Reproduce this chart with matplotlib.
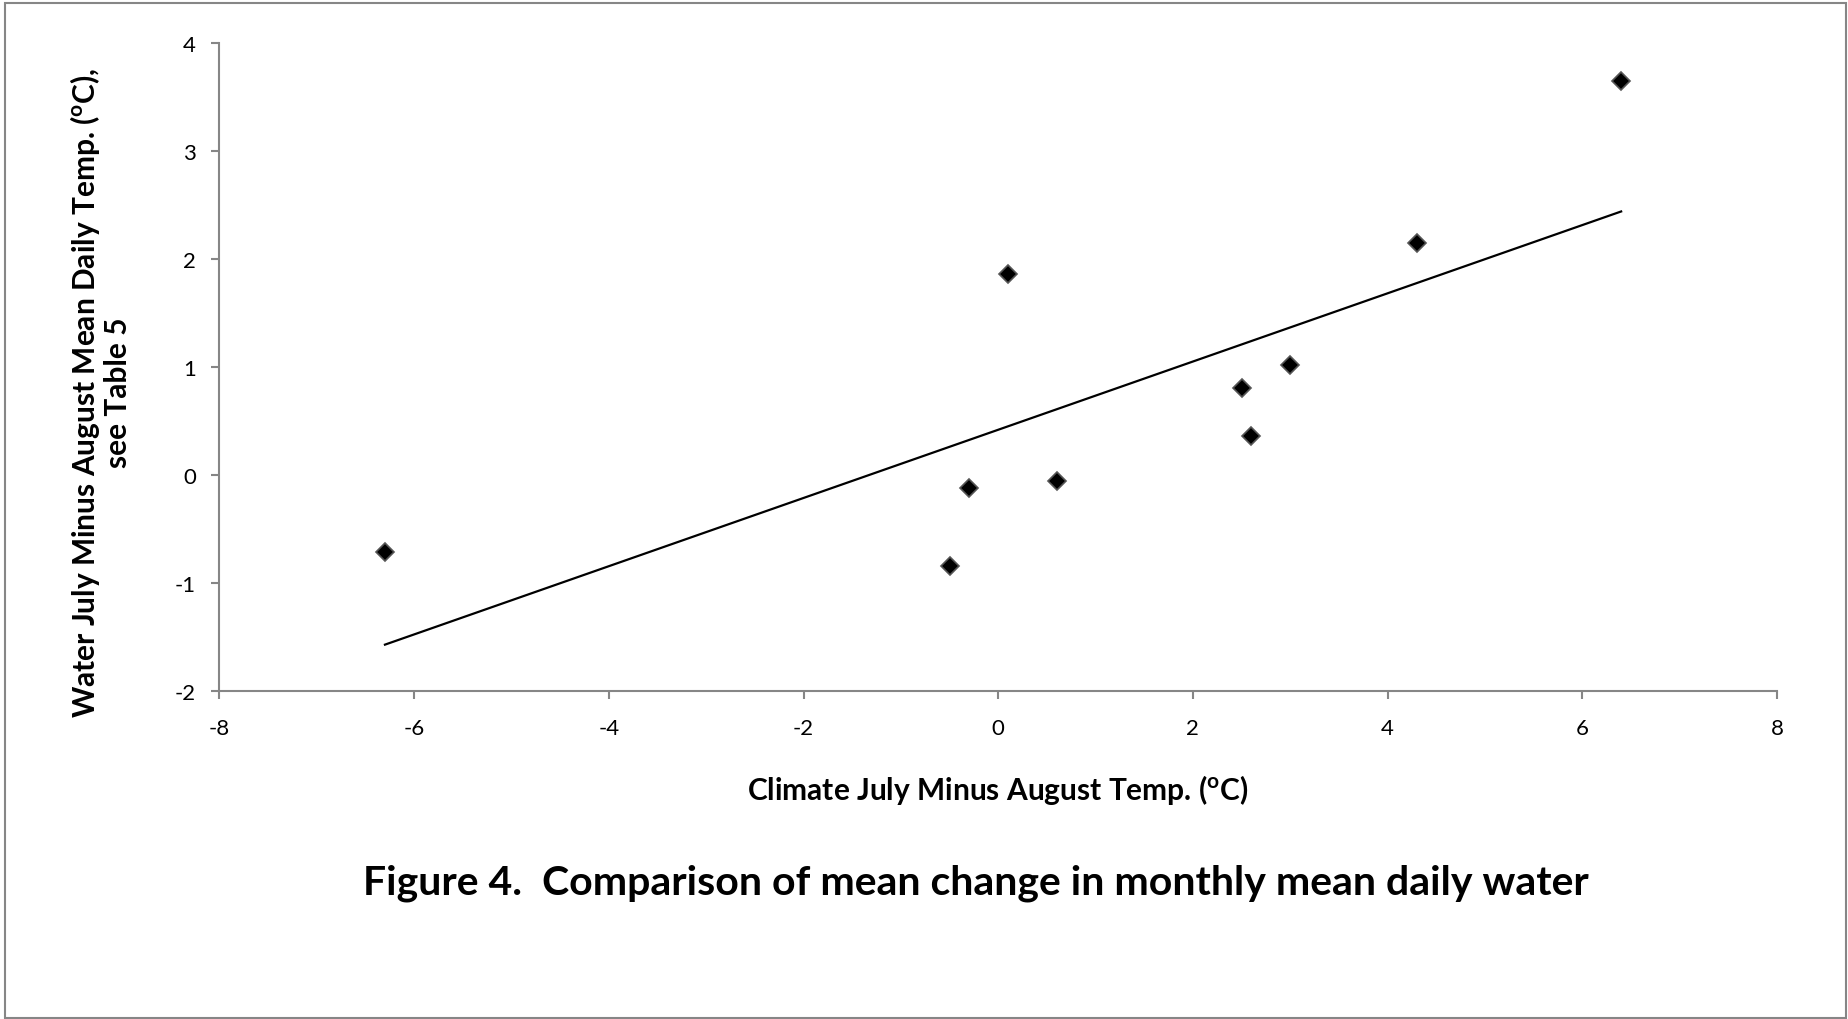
import numpy as np
import matplotlib
matplotlib.use("Agg")
import matplotlib.pyplot as plt
from matplotlib.patches import Rectangle

# climate vs. water July-minus-August temperature differences (oC)
climate_diff = [-6.3, -0.5, -0.3, 0.1, 0.6, 2.5, 2.6, 3.0, 4.3, 6.4]
water_diff = [-0.71, -0.84, -0.12, 1.86, -0.05, 0.81, 0.36, 1.02, 2.15, 3.65]

x_ticks = [-8, -6, -4, -2, 0, 2, 4, 6, 8]
y_ticks = [-2, -1, 0, 1, 2, 3, 4]

plt.rcParams["font.family"] = ["Lato", "DejaVu Sans"]
plt.rcParams["mathtext.fontset"] = "custom"
plt.rcParams["mathtext.rm"] = "Lato"
plt.rcParams["mathtext.bf"] = "Lato:bold"

axis_grey = "#868686"

fig = plt.figure(figsize=(18.49, 10.20), dpi=100)
fig.patch.set_facecolor("white")

# thin grey frame around the whole chart area
fig.patches.append(Rectangle((5 / 1849, 1 - 1019 / 1020), 1841 / 1849, 1015 / 1020,
                             transform=fig.transFigure, fill=False,
                             edgecolor=axis_grey, linewidth=1.5))

ax = fig.add_axes([0.1187, 0.3213, 0.8423, 0.6353])

# least-squares trend line over the data range
x = np.array(climate_diff)
y = np.array(water_diff)
slope, intercept = np.polyfit(x, y, 1)
xs = np.array([x.min(), x.max()])
ax.plot(xs, slope * xs + intercept, color="black", linewidth=1.6, zorder=2)

ax.plot(climate_diff, water_diff, linestyle="none", marker="D", markersize=9.5,
        markerfacecolor="black", markeredgecolor="#555555", markeredgewidth=1.2, zorder=3)

ax.set_xlim(-8, 8)
ax.set_ylim(-2, 4)
ax.set_xticks(x_ticks)
ax.set_yticks(y_ticks)
ax.set_xticklabels([str(v) for v in x_ticks])
ax.set_yticklabels([str(v) for v in y_ticks])

for side in ["top", "right"]:
    ax.spines[side].set_visible(False)
for side in ["left", "bottom"]:
    ax.spines[side].set_color(axis_grey)
    ax.spines[side].set_linewidth(1.5)

ax.tick_params(axis="both", direction="out", length=6, width=1.5, color=axis_grey,
               labelsize=16, labelcolor="black")
ax.tick_params(axis="x", pad=13)
ax.tick_params(axis="y", pad=11)

fig.text(998 / 1849, 1 - 790 / 1020, r"Climate July Minus August Temp. (${}^{\mathbf{o}}$C)",
         ha="center", va="center", fontsize=21.5, fontweight="bold")

fig.text(85 / 1849, 1 - 393 / 1020,
         r"Water July Minus August Mean Daily Temp. (${}^{\mathbf{o}}$C),",
         ha="center", va="center", rotation=90, fontsize=21.5, fontweight="bold")
fig.text(118 / 1849, 1 - 393 / 1020, "see Table 5",
         ha="center", va="center", rotation=90, fontsize=21.5, fontweight="bold")

fig.text(976 / 1849, 1 - 883 / 1020,
         "Figure 4.  Comparison of mean change in monthly mean daily water",
         ha="center", va="center", fontsize=29.5, fontweight="bold")

fig.savefig("out.png", dpi=100, facecolor="white")
